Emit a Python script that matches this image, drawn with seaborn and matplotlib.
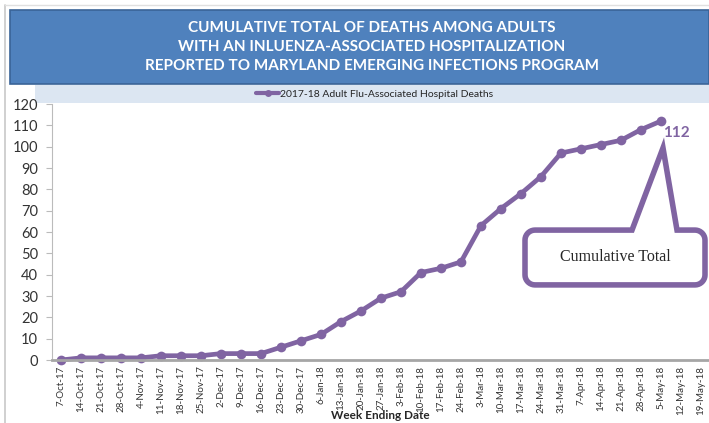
import numpy as np
import pandas as pd
import matplotlib
matplotlib.use("Agg")
import matplotlib.pyplot as plt
import seaborn as sns
from matplotlib.patches import Rectangle, Polygon

weeks = ["7-Oct-17", "14-Oct-17", "21-Oct-17", "28-Oct-17", "4-Nov-17", "11-Nov-17",
         "18-Nov-17", "25-Nov-17", "2-Dec-17", "9-Dec-17", "16-Dec-17", "23-Dec-17",
         "30-Dec-17", "6-Jan-18", "13-Jan-18", "20-Jan-18", "27-Jan-18", "3-Feb-18",
         "10-Feb-18", "17-Feb-18", "24-Feb-18", "3-Mar-18", "10-Mar-18", "17-Mar-18",
         "24-Mar-18", "31-Mar-18", "7-Apr-18", "14-Apr-18", "21-Apr-18", "28-Apr-18",
         "5-May-18", "12-May-18", "19-May-18"]
deaths = [0, 1, 1, 1, 1, 2, 2, 2, 3, 3, 3, 6, 9, 12, 18, 23, 29, 32, 41, 43, 46,
          63, 71, 78, 86, 97, 99, 101, 103, 108, 112]
series_name = "2017-18 Adult Flu-Associated Hospital Deaths"
title_lines = ["CUMULATIVE TOTAL OF DEATHS AMONG ADULTS",
               "WITH AN INLUENZA-ASSOCIATED HOSPITALIZATION",
               "REPORTED TO MARYLAND EMERGING INFECTIONS PROGRAM"]

purple = "#8064a2"
W, H = 709, 423


def fx(px):
    return px / W


def fy(py):
    return 1 - py / H


sns.set_style("white")
plt.rcParams['font.family'] = ['Lato', 'DejaVu Sans']

df = pd.DataFrame({"pos": np.arange(len(deaths)), "deaths": deaths,
                   "series": series_name})

fig = plt.figure(figsize=(W / 100, H / 100), dpi=100)

# outer sheet border
fig.add_artist(plt.Line2D([fx(5), fx(5)], [fy(5), 0], color="#c8c8c8", lw=1.2,
                          zorder=-2))
fig.add_artist(plt.Line2D([fx(5), 1], [fy(5), fy(5)], color="#e0e0e0", lw=1.0,
                          zorder=-2))

# title banner
fig.add_artist(Rectangle((fx(10), fy(84)), 1 - fx(10), fy(10) - fy(84),
                         transform=fig.transFigure, facecolor="#4f81bd",
                         edgecolor="#3a6497", lw=1.2, zorder=-1))
for i, line in enumerate(title_lines):
    fig.text(fx(372), fy(28 + 19 * i), line, color="white", fontsize=11,
             fontweight="bold", ha="center", va="center")

# legend band
fig.add_artist(Rectangle((fx(35), fy(103)), 1 - fx(35), fy(85) - fy(103),
                         transform=fig.transFigure, facecolor="#dce6f2",
                         edgecolor="none", zorder=-1))

ax = fig.add_axes([fx(52), fy(360), 1 - fx(52), fy(104) - fy(360)])
ax.patch.set_alpha(0)
sns.lineplot(data=df, x="pos", y="deaths", hue="series", palette=[purple],
             marker="o", markersize=7, markeredgewidth=0, linewidth=3.4,
             ax=ax, clip_on=False)

ax.set_xlim(-0.45, 32.4)
ax.set_ylim(0, 120)
ax.set_yticks(range(0, 121, 10))
ax.tick_params(axis="y", labelsize=10.5, colors="#333333", length=4,
               direction="out", left=True, pad=6, color="#bbbbbb")
ax.set_xticks(range(len(weeks)))
ax.set_xticklabels(weeks, rotation=90, fontsize=7, color="#333333")
ax.tick_params(axis="x", length=0, pad=4)
ax.set_xlabel("Week Ending Date", fontsize=8.5, fontweight="bold", labelpad=0)
ax.xaxis.label.set_va("center")
ax.xaxis.set_label_coords(fx(380 - 52) / (1 - fx(52)), (360 - 415) / 256)
ax.set_ylabel("")
for s in ["top", "right"]:
    ax.spines[s].set_visible(False)
ax.spines["left"].set_color("#bbbbbb")
ax.spines["bottom"].set_color("#a6a6a6")
ax.spines["bottom"].set_linewidth(2)

leg = ax.legend(loc="center", bbox_to_anchor=(fx(375), fy(94)),
                bbox_transform=fig.transFigure, frameon=False, fontsize=7.5,
                handlelength=2.2, handletextpad=0.1, borderpad=0)
for h in leg.get_lines():
    h.set_linewidth(3)
    h.set_markersize(5)

# data label on last value
last = len(deaths) - 1
ax.annotate(str(deaths[last]), (last, deaths[last]), xytext=(11, -8.5),
            textcoords="offset points", color=purple, fontsize=11,
            fontweight="bold", ha="center", va="center", annotation_clip=False)

# callout: rounded box with a pointer, one outline
bx0, bx1, by0, by1 = 23.2, 32.2, 35.2, 60.9
tip = (30.1, 99.4)
base_l, base_r = 28.55, 30.8
sx, sy = 20.0, 256 / 120  # pixels per data unit
r = 10  # corner radius in pixels


def arc(cx, cy, a0, a1):
    t = np.radians(np.linspace(a0, a1, 10))
    return [(cx + r * np.cos(a) / sx, cy + r * np.sin(a) / sy) for a in t]


rx, ry = r / sx, r / sy
pts = [(base_r, by1)]
pts += arc(bx1 - rx, by1 - ry, 90, 0)
pts += arc(bx1 - rx, by0 + ry, 0, -90)
pts += arc(bx0 + rx, by0 + ry, 270, 180)
pts += arc(bx0 + rx, by1 - ry, 180, 90)
pts += [(base_l, by1), tip]
callout = Polygon(pts, closed=True, facecolor="white", edgecolor=purple,
                  lw=4, joinstyle="miter", clip_on=False, zorder=5)
ax.add_patch(callout)
ax.text((bx0 + bx1) / 2, (by0 + by1) / 2, "Cumulative Total",
        family="Liberation Serif", fontsize=11.5, ha="center", va="center",
        zorder=7)

fig.savefig("out.png", dpi=100)
